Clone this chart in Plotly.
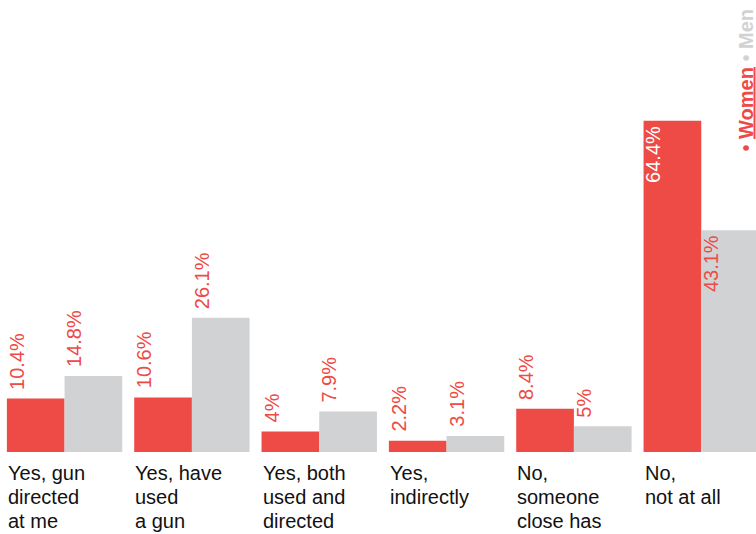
import plotly.graph_objects as go

# Survey: "Have you ever experienced gun violence?" by gender
categories = [
    "Yes, gun<br>directed<br>at me",
    "Yes, have<br>used<br>a gun",
    "Yes, both<br>used and<br>directed",
    "Yes,<br>indirectly",
    "No,<br>someone<br>close has",
    "No,<br>not at all",
]
women = [10.4, 10.6, 4.0, 2.2, 8.4, 64.4]
men = [14.8, 26.1, 7.9, 3.1, 5.0, 43.1]
women_labels = ["10.4%", "10.6%", "4%", "2.2%", "8.4%", "64.4%"]
men_labels = ["14.8%", "26.1%", "7.9%", "3.1%", "5%", "43.1%"]

RED = "#EE4A46"
GRAY = "#D1D2D4"
FONT = "Liberation Sans, Arial, Helvetica, sans-serif"

BARGAP = 0.094
HALF = (1 - BARGAP) / 2  # width of one bar in category units

xs = list(range(len(categories)))

fig = go.Figure()
fig.add_trace(go.Bar(x=xs, y=women, name="Women", marker_color=RED,
                     marker_line_width=0, hoverinfo="skip"))
fig.add_trace(go.Bar(x=xs, y=men, name="Men", marker_color=GRAY,
                     marker_line_width=0, hoverinfo="skip"))

annotations = []
# value labels, rotated, anchored at each bar's left edge
INSIDE_THRESHOLD = 40
for i in xs:
    for val, lab, left, bar_color in ((women[i], women_labels[i], i - HALF, RED),
                                      (men[i], men_labels[i], i, GRAY)):
        inside = val > INSIDE_THRESHOLD
        if inside:
            color = "white" if bar_color == RED else RED
            annotations.append(dict(
                x=left, y=val, xref="x", yref="y", text=lab, showarrow=False,
                textangle=-90, xanchor="left", yanchor="top", xshift=-2,
                yshift=-4, borderpad=0,
                font=dict(family=FONT, size=20, color=color)))
        else:
            annotations.append(dict(
                x=left, y=val, xref="x", yref="y", text=lab, showarrow=False,
                textangle=-90, xanchor="left", yanchor="bottom", xshift=-2,
                yshift=8, borderpad=0,
                font=dict(family=FONT, size=20, color=RED)))

# category labels below the baseline, left aligned, one line at a time
LINE = 24
for i, cat in enumerate(categories):
    for k, line in enumerate(cat.split("<br>")):
        annotations.append(dict(
            x=i - HALF, y=0, xref="x", yref="y", text=line, showarrow=False,
            xanchor="left", yanchor="top", align="left", borderpad=0,
            yshift=-9 - k * LINE,
            font=dict(family=FONT, size=20, color="#111111")))

# legend, rotated along the right edge
annotations.append(dict(
    x=1, y=1, xref="paper", yref="paper", showarrow=False, textangle=-90,
    xanchor="right", yanchor="top", yshift=-8, xshift=1, borderpad=0,
    text=(f"<span style='color:{RED}'><b>• <u>Women</u></b></span> "
          f"<span style='color:{GRAY}'><b>• Men</b></span>"),
    font=dict(family=FONT, size=20)))

fig.update_layout(
    width=756, height=534,
    margin=dict(l=0, r=0, t=0, b=82),
    paper_bgcolor="white", plot_bgcolor="white",
    barmode="group", bargap=BARGAP, bargroupgap=0,
    showlegend=False,
    xaxis=dict(range=[-0.507, 5.43], showticklabels=False, showgrid=False,
               zeroline=False, showline=False, ticks=""),
    yaxis=dict(range=[0, 87.9], showticklabels=False, showgrid=False,
               zeroline=False, showline=False, ticks=""),
    annotations=annotations,
)

fig.write_html("out.html")
